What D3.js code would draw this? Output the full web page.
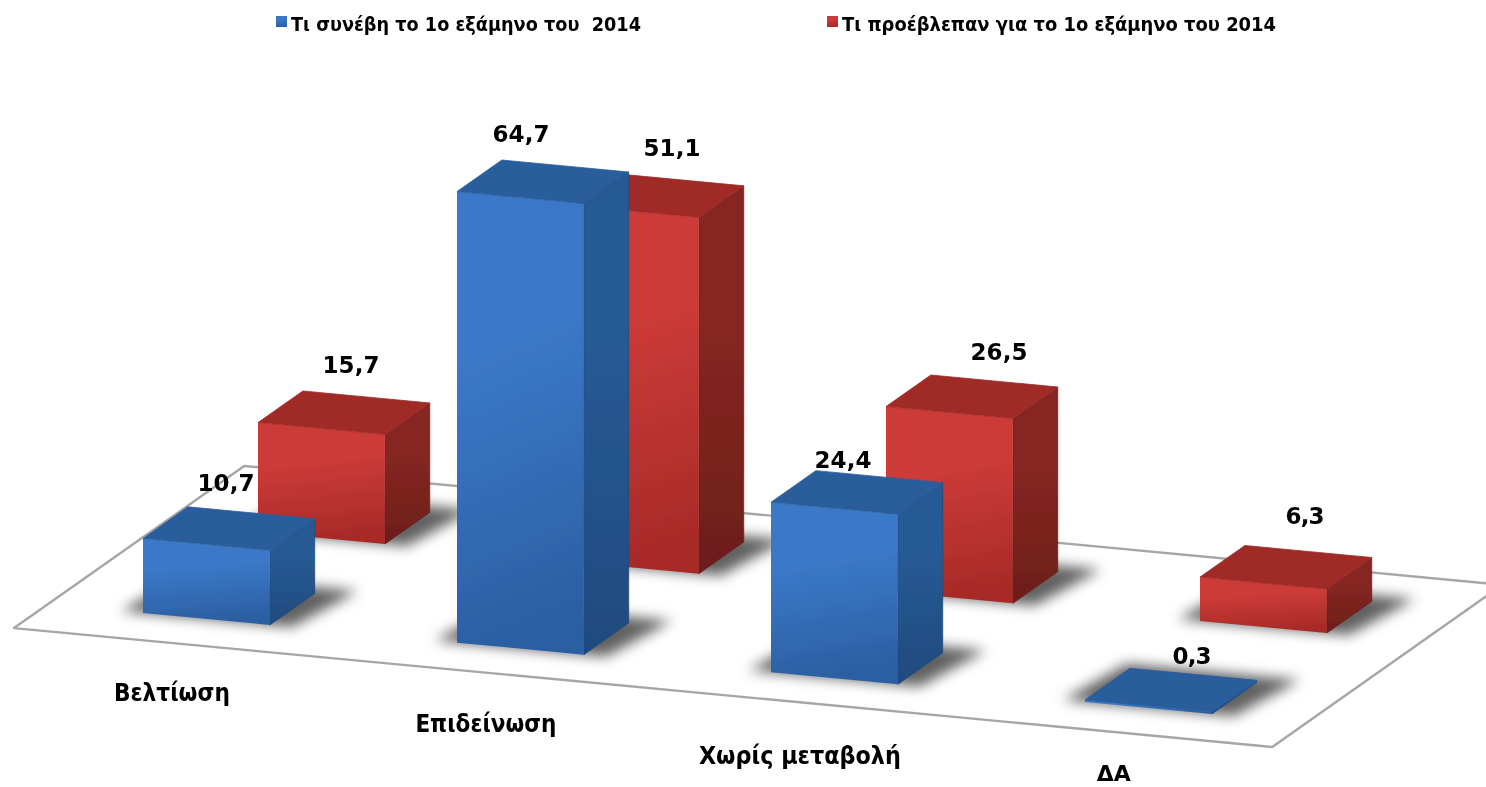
<!DOCTYPE html>
<html lang="el"><head><meta charset="utf-8">
<script src="https://cdnjs.cloudflare.com/ajax/libs/d3/7.8.5/d3.min.js"></script>
<style>html,body{margin:0;padding:0;background:#fff;overflow:hidden}svg{display:block}
text{font-family:"DejaVu Sans",Verdana,sans-serif;font-weight:700;fill:#000}</style></head>
<body><svg id="c" width="1486" height="787"></svg>
<script>
// ---- data ----
const categories = ["Βελτίωση", "Επιδείνωση", "Χωρίς μεταβολή", "ΔΑ"];
const seriesNames = ["Τι συνέβη το 1ο εξάμηνο του  2014", "Τι προέβλεπαν για το 1ο εξάμηνο του 2014"];
const happened = [10.7, 64.7, 24.4, 0.3];
const forecast = [15.7, 51.1, 26.5, 6.3];

// ---- oblique projection, built from d3 scales ----
const xU = d3.scaleLinear().domain([0, 3]).range([143, 1085]);
const yU = d3.scaleLinear().domain([0, 3]).range([613, 702]);
const xV = d3.scaleLinear().domain([0, 1]).range([0, 115]);
const yV = d3.scaleLinear().domain([0, 1]).range([0, -81]);
const h  = d3.scaleLinear().domain([0, 70]).range([0, 488]);
const P = (u, v, val = 0) => [xU(u) + xV(v), yU(u) + yV(v) - h(val)];
const bw = 0.404, bd = 0.39;           // bar footprint in axis units
const floorU = [-0.302, 3.705], floorV = [-0.297, 1.705];

const svg = d3.select("#c");
const defs = svg.append("defs");
const grad = (id, c0, c1, x2 = 0.12) => {
  const g = defs.append("linearGradient").attr("id", id)
    .attr("x1", 0).attr("y1", 0).attr("x2", x2).attr("y2", 1);
  g.append("stop").attr("offset", "0%").attr("stop-color", c0);
  g.append("stop").attr("offset", "35%").attr("stop-color", c0);
  g.append("stop").attr("offset", "100%").attr("stop-color", c1);
};
const palette = [
  { front: ["#3b79c8", "#2c5fa3"], side: ["#275a94", "#1f4a7e"], top: "#2a5d9c" },
  { front: ["#cd3b38", "#a82b27"], side: ["#862622", "#6d1e1a"], top: "#9f2b28" }
];
palette.forEach((p, i) => {
  grad("f" + i, p.front[0], p.front[1]);
  grad("s" + i, p.side[0], p.side[1], 0);
});
defs.append("filter").attr("id", "blur").attr("x", "-30%").attr("y", "-60%").attr("width", "160%").attr("height", "220%")
  .append("feGaussianBlur").attr("stdDeviation", 6.5);
defs.append("filter").attr("id", "soft").attr("x", "-5%").attr("y", "-5%").attr("width", "110%").attr("height", "110%")
  .append("feGaussianBlur").attr("stdDeviation", 0.5);
defs.append("filter").attr("id", "soft2").attr("x", "-2%").attr("y", "-2%").attr("width", "104%").attr("height", "104%")
  .append("feGaussianBlur").attr("stdDeviation", 0.35);

const line = d3.line();
// floor
const fl = [[floorU[0], floorV[0]], [floorU[1], floorV[0]], [floorU[1], floorV[1]], [floorU[0], floorV[1]]];
svg.append("path").attr("d", line(fl.map(d => P(d[0], d[1]))) + "Z")
  .attr("fill", "#fff").attr("stroke", "#a6a6a6").attr("stroke-width", 2.4).attr("stroke-linejoin", "round")
  .attr("filter", "url(#soft)");

const series = [forecast, happened];
const idx = [1, 0];
// shadows
const pad = 0.07;
series.forEach((vals, k) => {
  const s = idx[k];
  svg.append("g").selectAll("path").data(vals).join("path")
    .attr("d", (d, c) => line([
      P(c - pad, s), P(c + bw + pad, s),
      P(c + bw + pad * 1.6, s + bd + pad), P(c - pad * 0.5, s + bd + pad)]) + "Z")
    .attr("fill", "#000").attr("fill-opacity", 0.62).attr("filter", "url(#blur)");
});
// bars: back series first; each face is outlined in its own paint to close the seams
const bars = svg.append("g").attr("filter", "url(#soft)");
series.forEach((vals, k) => {
  const s = idx[k];
  const g = bars.append("g").selectAll("g").data(vals).join("g");
  g.append("path").attr("d", (d, c) => line([P(c + bw, s, 0), P(c + bw, s + bd, 0), P(c + bw, s + bd, d), P(c + bw, s, d)]) + "Z")
    .attr("fill", `url(#s${s})`).attr("stroke", palette[s].side[1]).attr("stroke-width", 0.8);
  g.append("path").attr("d", (d, c) => line([P(c, s, 0), P(c + bw, s, 0), P(c + bw, s, d), P(c, s, d)]) + "Z")
    .attr("fill", `url(#f${s})`);
  g.append("path").attr("d", (d, c) => line([P(c, s, d), P(c + bw, s, d), P(c + bw, s + bd, d), P(c, s + bd, d)]) + "Z")
    .attr("fill", palette[s].top).attr("stroke", palette[s].top).attr("stroke-width", 0.8);
});

const texts = svg.append("g").attr("filter", "url(#soft2)");

// value labels: anchored to the top of each bar, with hand-placed nudges
const nudge = [
  [[-2, -55], [-21, -58], [-13, -42], [22, -44]],
  [[8, -58], [15, -57], [28, -55], [20, -61]]
];
series.forEach((vals, k) => {
  const s = idx[k];
  texts.append("g").selectAll("text").data(vals).join("text")
    .attr("x", (d, c) => P(c, s, d)[0] + 85 + nudge[s][c][0])
    .attr("y", (d, c) => P(c, s, d)[1] + nudge[s][c][1])
    .attr("text-anchor", "middle").attr("dominant-baseline", "central")
    .attr("font-size", 23)
    .attr("textLength", d => String(d).length === 4 ? 57 : 39).attr("lengthAdjust", "spacing")
    .text(d => String(d).replace(".", ","));
});

// category labels
const catNudge = [[0, 0], [0, 1], [0, 4], [0, -8]];
const catWidth = [116, 141, 202, 34];
const catFont = [24, 24, 24, 21];
texts.append("g").selectAll("text").data(categories).join("text")
  .attr("x", (d, c) => P(c + 0.4, -0.841)[0] + catNudge[c][0])
  .attr("y", (d, c) => P(c + 0.4, -0.841)[1] + catNudge[c][1])
  .attr("text-anchor", "middle").attr("dominant-baseline", "central")
  .attr("font-size", (d, c) => catFont[c])
  .attr("textLength", (d, c) => catWidth[c]).attr("lengthAdjust", "spacingAndGlyphs")
  .text(d => d);

// legend
const legendX = [276, 827], legendW = [350, 434];
seriesNames.forEach((n, i) => {
  svg.append("rect").attr("x", legendX[i]).attr("y", 16).attr("width", 11).attr("height", 11).attr("fill", `url(#f${i})`);
  texts.append("text").attr("x", legendX[i] + 15).attr("y", 24).attr("dominant-baseline", "central")
    .attr("font-size", 20).attr("textLength", legendW[i]).attr("lengthAdjust", "spacingAndGlyphs")
    .attr("xml:space", "preserve").text(n);
});
</script></body></html>
